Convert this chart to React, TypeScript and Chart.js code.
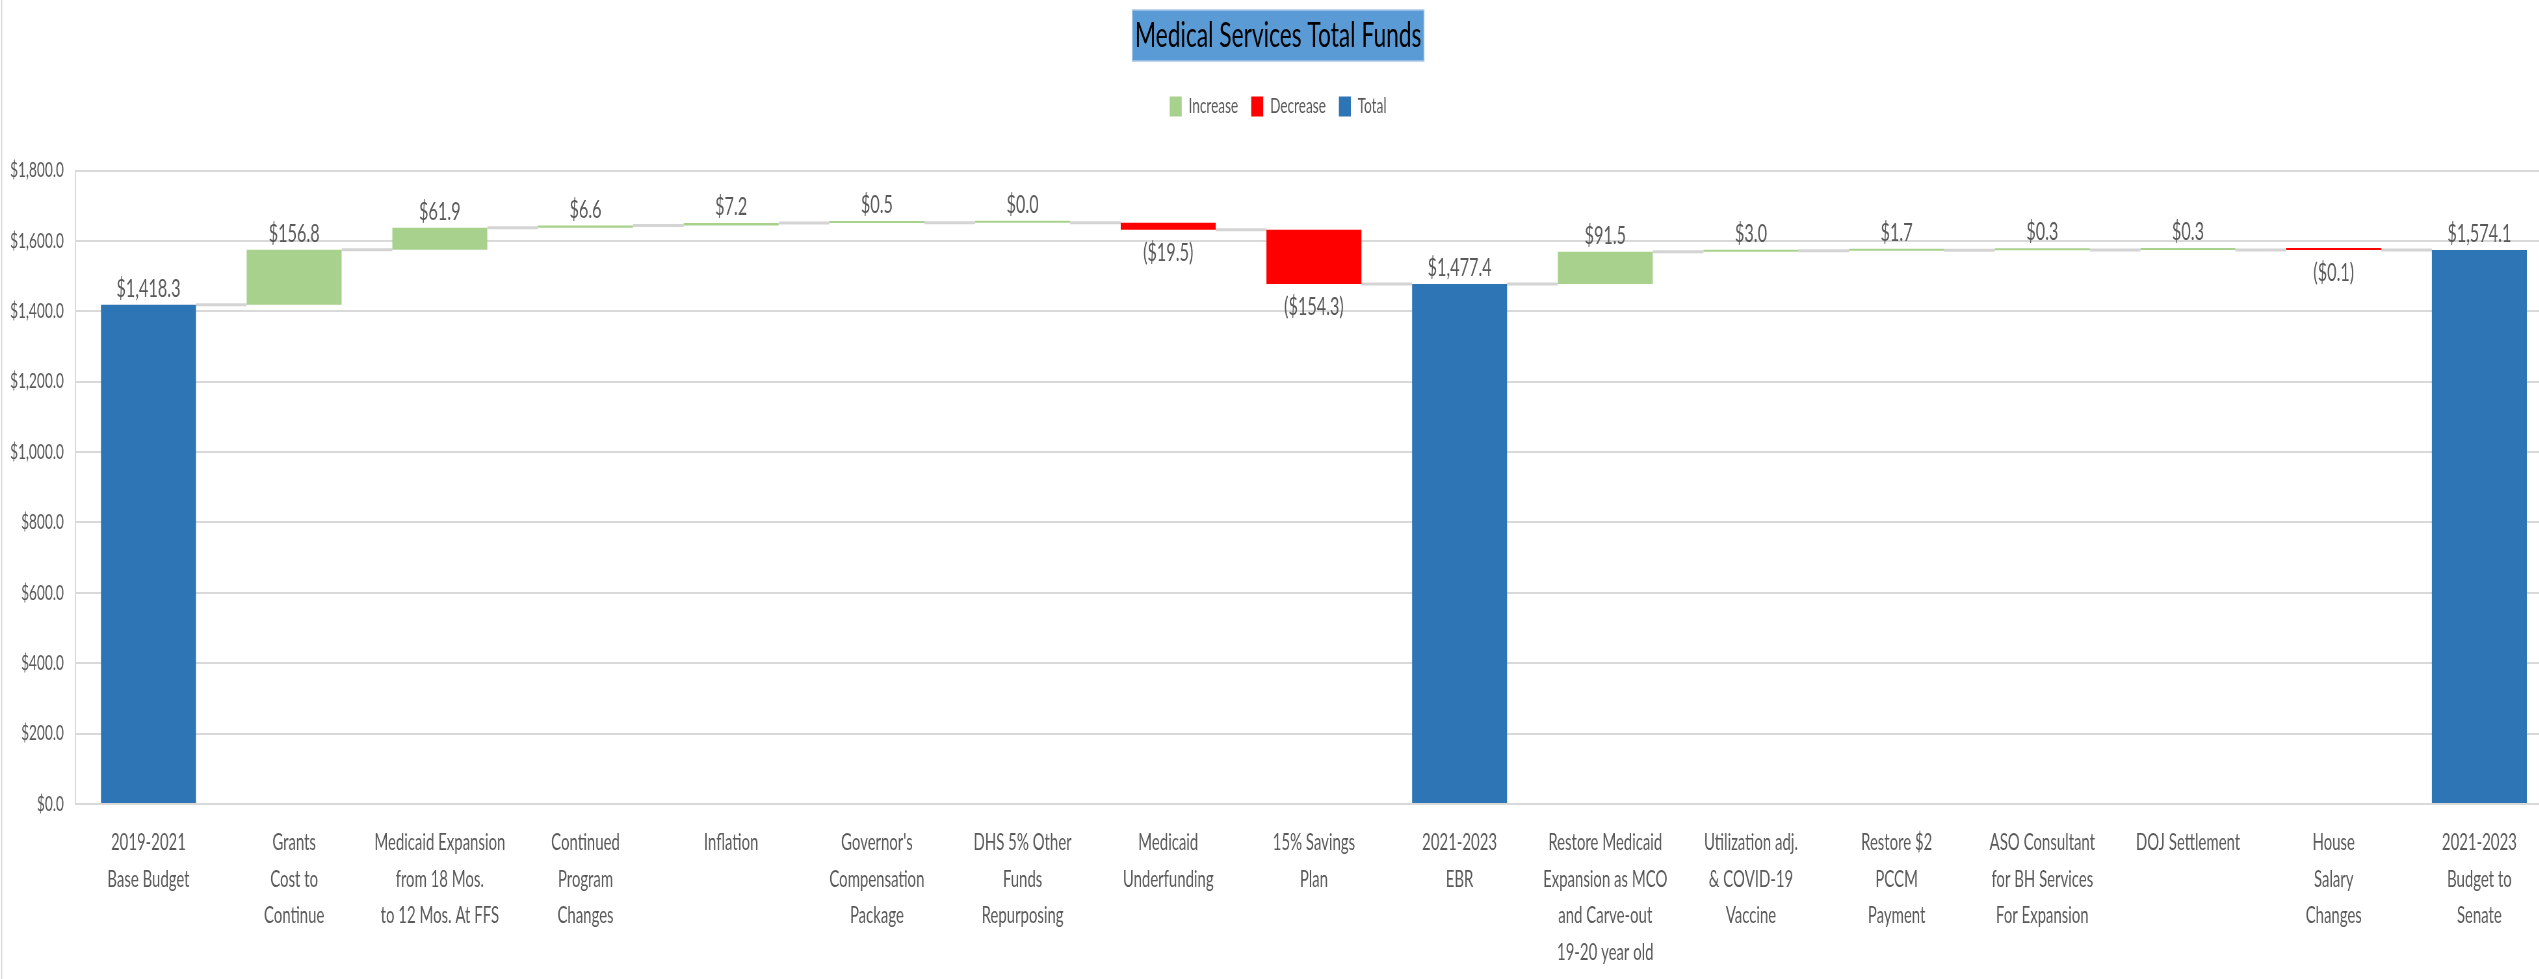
import React, { useEffect, useRef } from 'react';
import { Chart, registerables } from 'chart.js';

Chart.register(...registerables);

// ---------- data ----------
const categories: string[][] = [
  ['2019-2021', 'Base Budget'],
  ['Grants', 'Cost to', 'Continue'],
  ['Medicaid Expansion', 'from 18 Mos.', 'to 12 Mos. At FFS'],
  ['Continued', 'Program', 'Changes'],
  ['Inflation'],
  ["Governor's", 'Compensation', 'Package'],
  ['DHS 5% Other', 'Funds', 'Repurposing'],
  ['Medicaid', 'Underfunding'],
  ['15% Savings', 'Plan'],
  ['2021-2023', 'EBR'],
  ['Restore Medicaid', 'Expansion as MCO', 'and Carve-out', '19-20 year old'],
  ['Utilization adj.', '& COVID-19', 'Vaccine'],
  ['Restore $2', 'PCCM', 'Payment'],
  ['ASO Consultant', 'for BH Services', 'For Expansion'],
  ['DOJ Settlement'],
  ['House', 'Salary', 'Changes'],
  ['2021-2023', 'Budget to', 'Senate'],
];

const values: number[] = [
  1418.3, 156.8, 61.9, 6.6, 7.2, 0.5, 0.0, -19.5, -154.3,
  1477.4, 91.5, 3.0, 1.7, 0.3, 0.3, -0.1, 1574.1,
];

// 0 = Increase, 1 = Decrease, 2 = Total
const kinds: number[] = [2, 0, 0, 0, 0, 0, 0, 1, 1, 2, 0, 0, 0, 0, 0, 1, 2];

const seriesNames: string[] = ['Increase', 'Decrease', 'Total'];
const seriesColors: string[] = ['#A9D18E', '#FF0000', '#2E75B6'];

const chartTitle = 'Medical Services Total Funds';
const yMin = 0;
const yMax = 1800;
const yStep = 200;

// ---------- layout / style ----------
const K = 0.65; // horizontal compression of the drawing
const CSS_W = 2560;
const CSS_H = 979;
const LOGICAL_W = Math.round(CSS_W / K);
const FONT = 'Lato';
const TEXT_GRAY = '#595959';
const GRID_GRAY = '#d9d9d9';
const BAR_PCT = 0.652;
const LEGEND_GAP = 43.5;

// ---------- derived waterfall ranges ----------
const ranges: ([number, number] | null)[] = [];
const levels: number[] = [];
{
  let level = 0;
  values.forEach((v, i) => {
    if (kinds[i] === 2) {
      ranges.push([0, v]);
      level = v;
    } else {
      const start = level;
      level = Math.round((level + v) * 10) / 10;
      ranges.push([start, level]);
    }
    levels.push(level);
  });
}

const fmt = (v: number) => {
  const s = Math.abs(v).toLocaleString('en-US', {
    minimumFractionDigits: 1,
    maximumFractionDigits: 1,
  });
  return v < 0 ? `($${s})` : `$${s}`;
};

const decoPlugin = {
  id: 'waterfallDeco',
  beforeInit(chart: any) {
    const legend = chart.legend;
    if (legend && !legend.__patched) {
      const orig = legend.fit;
      legend.fit = function () {
        orig.call(this);
        this.height += LEGEND_GAP;
      };
      legend.__patched = true;
    }
  },
  beforeDraw(chart: any) {
    const ctx = chart.ctx;
    ctx.save();
    // chart border on the left
    ctx.strokeStyle = GRID_GRAY;
    ctx.lineWidth = 2;
    ctx.beginPath();
    ctx.moveTo(2.5, 0);
    ctx.lineTo(2.5, chart.height);
    ctx.stroke();
    // title box
    const tb = chart.titleBlock;
    if (tb) {
      const f = tb.options.font;
      ctx.font = `${f.weight || 'normal'} ${f.size}px ${f.family}`;
      const w = ctx.measureText(chartTitle).width;
      const cx = (tb.left + tb.right) / 2;
      const padX = 4;
      const x0 = cx - w / 2 - padX;
      const bw = w + padX * 2;
      ctx.fillStyle = '#5B9BD5';
      ctx.fillRect(x0, 10, bw, 51);
      ctx.strokeStyle = '#A9C8E8';
      ctx.lineWidth = 1.5;
      ctx.strokeRect(x0, 10, bw, 51);
    }
    ctx.restore();
  },
  beforeDatasetsDraw(chart: any) {
    const ctx = chart.ctx;
    const xs = chart.scales.x;
    const ys = chart.scales.y;
    const n = categories.length;
    const half = (xs.width / n) * BAR_PCT / 2;
    ctx.save();
    ctx.strokeStyle = '#d4d4d4';
    ctx.lineWidth = 3;
    for (let i = 0; i < n - 1; i++) {
      const y = ys.getPixelForValue(levels[i]);
      const x1 = xs.getPixelForValue(i) + half;
      const x2 = xs.getPixelForValue(i + 1) - half;
      ctx.beginPath();
      ctx.moveTo(x1, y);
      ctx.lineTo(x2, y);
      ctx.stroke();
    }
    ctx.restore();
  },
  afterDatasetsDraw(chart: any) {
    const ctx = chart.ctx;
    ctx.save();
    ctx.font = `normal 25px ${FONT}`;
    ctx.fillStyle = TEXT_GRAY;
    ctx.textAlign = 'center';
    ctx.textBaseline = 'alphabetic';
    chart.data.datasets.forEach((ds: any, di: number) => {
      const meta = chart.getDatasetMeta(di);
      meta.data.forEach((el: any, i: number) => {
        if (ds.data[i] == null) return;
        const p = el.getProps(['x', 'y', 'base'], true);
        const top = Math.min(p.y, p.base);
        const bottom = Math.max(p.y, p.base);
        const v = values[i];
        if (kinds[i] === 1) {
          ctx.fillText(fmt(v), p.x, bottom + 31);
        } else {
          ctx.fillText(fmt(v), p.x, top - 8);
        }
      });
    });
    ctx.restore();
  },
};

export default function App() {
  const ref = useRef<HTMLCanvasElement>(null);

  useEffect(() => {
    const canvas = ref.current;
    if (!canvas) return;
    const datasets = seriesNames.map((name, s) => ({
      label: name,
      data: ranges.map((r, i) => (kinds[i] === s ? r : null)),
      backgroundColor: seriesColors[s],
      borderWidth: 0,
      grouped: false,
      barPercentage: BAR_PCT,
      categoryPercentage: 1,
      minBarLength: s < 2 ? 2 : 0,
    }));

    const chart = new Chart(canvas, {
      type: 'bar',
      data: { labels: categories, datasets: datasets as any },
      plugins: [decoPlugin as any],
      options: {
        animation: false,
        responsive: false,
        maintainAspectRatio: false,
        devicePixelRatio: 1,
        layout: { padding: { left: 6.3, right: 12, top: 0, bottom: 0 } },
        plugins: {
          title: {
            display: true,
            text: chartTitle,
            color: '#000000',
            font: { family: FONT, size: 35, weight: 'normal', lineHeight: 1.2 },
            padding: { top: 15, bottom: 19 },
          },
          legend: {
            display: true,
            position: 'top',
            labels: {
              boxWidth: 18.5,
              boxHeight: 20,
              padding: 20,
              color: TEXT_GRAY,
              font: { family: FONT, size: 21 },
            },
          },
          tooltip: { enabled: false },
        },
        scales: {
          x: {
            grid: { display: false, drawTicks: false },
            border: { display: false },
            ticks: {
              color: TEXT_GRAY,
              font: { family: FONT, size: 23, lineHeight: 1.6 },
              padding: 20,
              autoSkip: false,
              maxRotation: 0,
              minRotation: 0,
            },
            afterFit(scale: any) {
              scale.height = 175;
            },
          },
          y: {
            min: yMin,
            max: yMax,
            grid: { color: GRID_GRAY, lineWidth: 2, drawTicks: false },
            border: { display: true, color: GRID_GRAY, width: 2 },
            ticks: {
              stepSize: yStep,
              color: TEXT_GRAY,
              font: { family: FONT, size: 21 },
              padding: 18,
              callback: (v: any) => fmt(Number(v)),
            },
            afterFit(scale: any) {
              scale.width = 110;
            },
          },
        },
      } as any,
    });
    return () => chart.destroy();
  }, []);

  return (
    <div
      style={{
        position: 'fixed',
        left: 0,
        top: 0,
        width: 2539,
        height: 979,
        overflow: 'hidden',
        background: '#ffffff',
      }}
    >
      <canvas
        ref={ref}
        width={LOGICAL_W}
        height={CSS_H}
        style={{ display: 'block', width: `${CSS_W}px`, height: `${CSS_H}px` }}
      />
    </div>
  );
}
